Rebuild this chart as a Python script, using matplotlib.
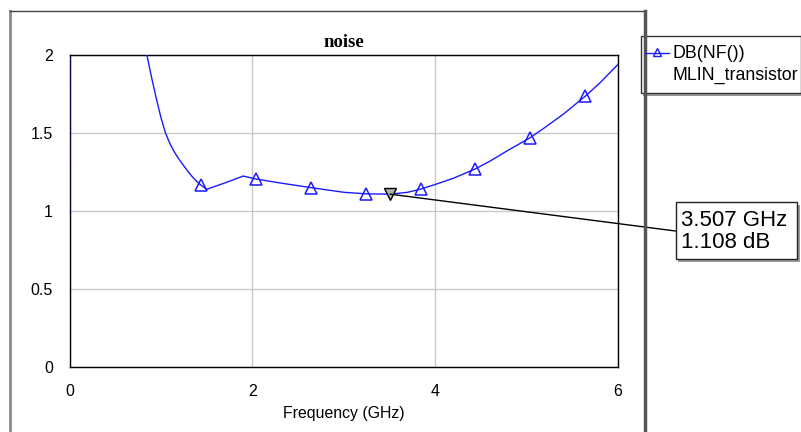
import numpy as np
import matplotlib.pyplot as plt
from matplotlib.patches import Rectangle, ConnectionPatch
from matplotlib.lines import Line2D

# noise figure trace (GHz, dB)
freq = [0, 0.05, 0.1, 0.5, 0.7, 0.8, 0.85, 0.9, 0.95, 1.0, 1.05, 1.1, 1.15, 1.2, 1.25,
        1.3, 1.35, 1.4, 1.44, 1.5, 1.7, 1.9, 2.04, 2.3, 2.64, 3.0, 3.24, 3.507, 3.7,
        3.84, 4.0, 4.2, 4.44, 4.6, 4.8, 5.04, 5.2, 5.4, 5.64, 5.8, 6.0]
nf_db = [1.0, 40.0, 20.0, 3.0, 2.4, 2.12, 1.99, 1.85, 1.72, 1.6, 1.5, 1.43, 1.375, 1.33, 1.29,
         1.25, 1.215, 1.185, 1.165, 1.139, 1.18, 1.224, 1.205, 1.18, 1.15, 1.12, 1.11, 1.108, 1.12,
         1.14, 1.17, 1.21, 1.27, 1.32, 1.39, 1.47, 1.535, 1.62, 1.735, 1.82, 1.94]
marker_freq = [1.44, 2.04, 2.64, 3.24, 3.84, 4.44, 5.04, 5.64]
marker_nf = [1.165, 1.205, 1.15, 1.11, 1.14, 1.27, 1.47, 1.735]
mark_f, mark_db = 3.507, 1.108

x_ticks = [0, 2, 4, 6]
y_ticks = [0, 0.5, 1, 1.5, 2]

W, H = 801, 432
fig = plt.figure(figsize=(W / 100, H / 100), dpi=100)

def fx(px):
    return px / W

def fy(py):
    return 1 - py / H

# outer frame of the graph window
fig.add_artist(Line2D([fx(10), fx(10)], [fy(11), 0], color='#8a8a8a', lw=2))
fig.add_artist(Line2D([fx(10), fx(645)], [fy(11), fy(11)], color='#444444', lw=1))
fig.add_artist(Line2D([fx(644.5), fx(644.5)], [fy(11), 0], color='#555555', lw=2.5))

ax = fig.add_axes([fx(69.5), fy(367), fx(618) - fx(69.5), fy(55) - fy(367)])
ax.plot(freq, nf_db, color='#1a1aff', lw=1, zorder=3)
ax.plot(marker_freq, marker_nf, linestyle='none', marker='^', ms=8.5,
        mfc='none', mec='#1a1aff', mew=1.1, zorder=4)
ax.plot([mark_f], [mark_db], linestyle='none', marker='v', ms=8,
        mfc='#b0b0b0', mec='black', mew=1, zorder=5)

ax.set_xlim(0, 6)
ax.set_ylim(0, 2)
ax.set_xticks(x_ticks)
ax.set_yticks(y_ticks)
ax.set_xticklabels([str(t) for t in x_ticks])
ax.set_yticklabels(['0', '0.5', '1', '1.5', '2'])
ax.grid(True, color='#c8c8c8', lw=1)
ax.set_axisbelow(True)
ax.tick_params(length=0, labelsize=11.5, pad=12)
for lab in ax.get_xticklabels() + ax.get_yticklabels():
    lab.set_family('Liberation Sans')
for s in ax.spines.values():
    s.set_color('black')
    s.set_linewidth(1)

ax.set_xlabel('Frequency (GHz)', family='Liberation Sans', fontsize=11.4, labelpad=5)
ax.set_title('noise', family='Liberation Serif', fontweight='bold', fontsize=13.5, pad=6)

# legend box
fig.add_artist(Rectangle((fx(643), fy(96)), fx(801) - fx(643), fy(39) - fy(96),
                         facecolor='#9a9a9a', edgecolor='none'))
fig.add_artist(Rectangle((fx(640.5), fy(93)), fx(801) - fx(640.5), fy(36) - fy(93),
                         facecolor='white', edgecolor='#333333', lw=1))
fig.add_artist(Line2D([fx(645), fx(669)], [fy(53), fy(53)], color='#1a1aff', lw=1))
fig.add_artist(Line2D([fx(657)], [fy(52)], marker='^', ms=6, mfc='none',
                      mec='#1a1aff', mew=1, linestyle='none'))
fig.text(fx(672), fy(54), 'DB(NF())', family='Liberation Sans', fontsize=12.8, va='center')
fig.text(fx(672), fy(75), 'MLIN_transistor', family='Liberation Sans', fontsize=12.8, va='center')

# marker readout box
fig.add_artist(Rectangle((fx(678), fy(262)), fx(800) - fx(678), fy(205) - fy(262),
                         facecolor='#9a9a9a', edgecolor='none'))
fig.add_artist(Rectangle((fx(675.5), fy(259)), fx(797) - fx(675.5), fy(202) - fy(259),
                         facecolor='white', edgecolor='#222222', lw=1))
fig.text(fx(681), fy(220), '%.3f GHz' % mark_f, family='Liberation Sans', fontsize=16, va='center')
fig.text(fx(681), fy(243), '%.3f dB' % mark_db, family='Liberation Sans', fontsize=16, va='center')
con = ConnectionPatch(xyA=(mark_f, mark_db), coordsA=ax.transData,
                      xyB=(fx(675.5), fy(231)), coordsB=fig.transFigure,
                      color='black', lw=1)
fig.add_artist(con)

fig.savefig('out.png', dpi=100)
